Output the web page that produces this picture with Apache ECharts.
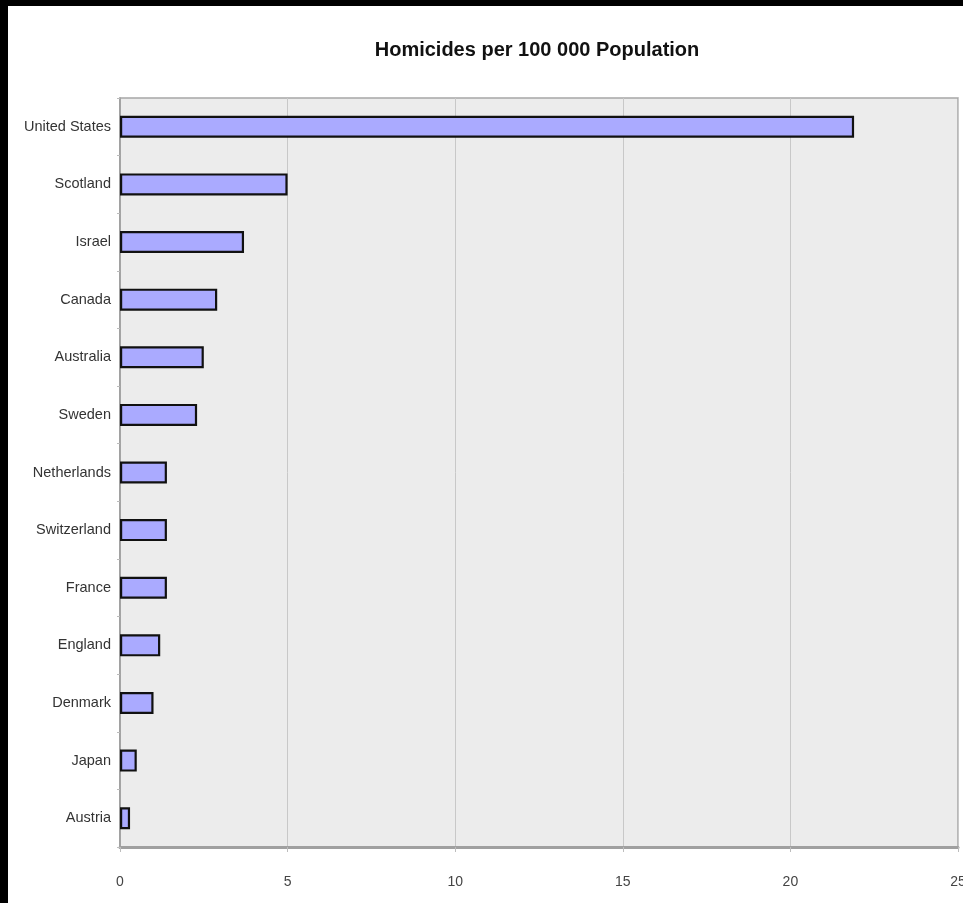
<!DOCTYPE html>
<html>
<head>
<meta charset="utf-8">
<script src="https://cdn.jsdelivr.net/npm/echarts@6/dist/echarts.min.js"></script>
<style>
html,body{margin:0;padding:0;background:#fff;overflow:hidden;}
#wrap{width:963px;height:903px;box-sizing:border-box;border-top:6px solid #000;border-left:8px solid #000;background:#fff;}
#chart{width:955px;height:897px;}
</style>
</head>
<body>
<div id="wrap"><div id="chart"></div></div>
<script>
const titleText = 'Homicides per 100 000 Population';
const countries = ['United States','Scotland','Israel','Canada','Australia','Sweden','Netherlands','Switzerland','France','England','Denmark','Japan','Austria'];
const homicides = [21.9, 5.0, 3.7, 2.9, 2.5, 2.3, 1.4, 1.4, 1.4, 1.2, 1.0, 0.5, 0.3];
const xMin = 0, xMax = 25, xStep = 5;

const font = '"Liberation Sans Narrow", "Liberation Sans", Arial, sans-serif';
const chart = echarts.init(document.getElementById('chart'));
chart.setOption({
  animation: false,
  backgroundColor: '#fff',
  title: {
    text: titleText,
    left: 532 - 8,
    textAlign: 'center',
    top: 29,
    textStyle: {fontFamily: font, fontSize: 20, fontWeight: 'bold', color: '#111'}
  },
  grid: {
    left: 112, top: 92, right: 5, bottom: 56,
    outerBoundsMode: 'none', containLabel: false,
    show: true, backgroundColor: '#ececec', borderColor: '#a6a6a6', borderWidth: 1.5
  },
  xAxis: {
    type: 'value', min: xMin, max: xMax, interval: xStep,
    axisLine: {show: true, lineStyle: {color: '#a0a0a0', width: 3}},
    axisTick: {show: true, length: 5, lineStyle: {color: '#bdbdbd'}},
    axisLabel: {fontFamily: font, fontSize: 14, color: '#444', margin: 28},
    splitLine: {show: true, lineStyle: {color: '#c8c8c8', width: 1}}
  },
  yAxis: {
    type: 'category', data: countries, inverse: true,
    axisLine: {show: true, lineStyle: {color: '#999', width: 1.5}},
    axisTick: {show: true, length: 3, lineStyle: {color: '#bbb'}},
    axisLabel: {fontFamily: font, fontSize: 14.5, color: '#333', margin: 9},
    splitLine: {show: false}
  },
  series: [{
    type: 'bar', data: homicides, barWidth: 22,
    itemStyle: {color: '#aaaaff', borderColor: '#111', borderWidth: 2.2}
  }]
});
</script>
</body>
</html>
